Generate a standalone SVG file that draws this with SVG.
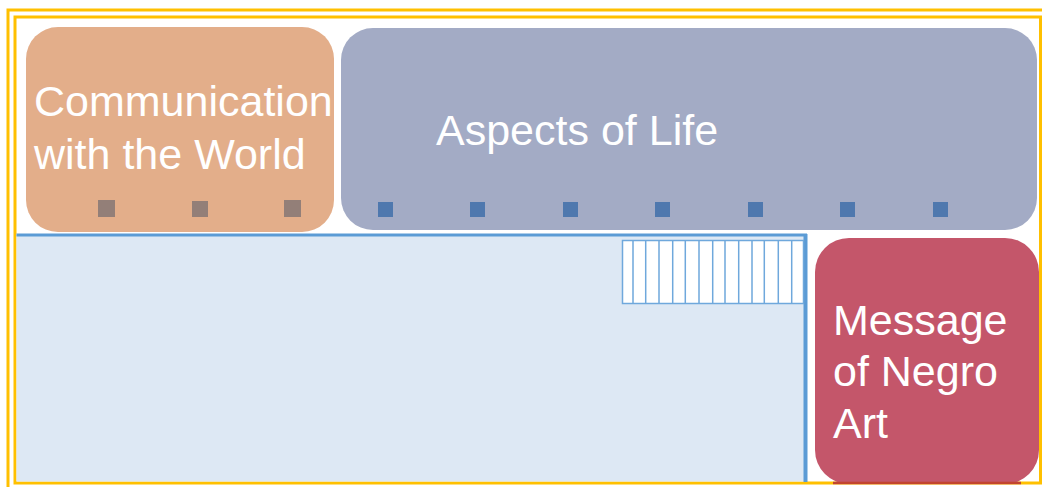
<svg xmlns="http://www.w3.org/2000/svg" width="1042" height="487" viewBox="0 0 1042 487">
<style>
.lbl{font-family:"Liberation Sans",Arial,sans-serif;font-size:43px;fill:#ffffff}
.frame{fill:none;stroke:#FFC000;stroke-width:3}
.sqo{fill:#937F78}
.sqb{fill:#4F78AE}
.hatch{stroke:#6FA8DC;stroke-width:1.5;fill:none}
</style>
<rect width="1042" height="487" fill="#ffffff"/>
<g id="frame">
<rect class="frame" x="8" y="10" width="1040" height="482"/>
<rect class="frame" x="15" y="17" width="1025.5" height="466"/>
</g>
<g id="panel">
<rect x="16.5" y="234" width="789" height="247.5" fill="#DDE8F4"/>
<line x1="16.5" y1="235" x2="807" y2="235" stroke="#5B9BD5" stroke-width="3"/>
<line x1="805.5" y1="234" x2="805.5" y2="482" stroke="#5B9BD5" stroke-width="4"/>
<rect x="622.5" y="240.5" width="181" height="63" fill="#ffffff" stroke="#6FA8DC" stroke-width="1.5"/>
<path class="hatch" d="M633 240.5V303.5M645.7 240.5V303.5M659 240.5V303.5M672.7 240.5V303.5M685.3 240.5V303.5M699 240.5V303.5M712.7 240.5V303.5M725 240.5V303.5M738.7 240.5V303.5M752 240.5V303.5M764.3 240.5V303.5M778.3 240.5V303.5M791.7 240.5V303.5"/>
</g>
<g id="node-communication">
<rect x="26" y="27" width="308" height="205" rx="32" fill="#E3AE8A"/>
<text class="lbl" x="34" y="116">Communication</text>
<text class="lbl" x="34" y="169">with the World</text>
<rect class="sqo" x="98" y="200" width="17" height="17"/>
<rect class="sqo" x="192" y="201" width="16" height="16"/>
<rect class="sqo" x="284" y="200" width="17" height="17"/>
</g>
<g id="node-aspects">
<rect x="341" y="28" width="696" height="202" rx="32" fill="#A3ABC5"/>
<text class="lbl" x="436" y="145">Aspects of Life</text>
<rect class="sqb" x="378" y="202" width="15" height="15"/>
<rect class="sqb" x="470" y="202" width="15" height="15"/>
<rect class="sqb" x="563" y="202" width="15" height="15"/>
<rect class="sqb" x="655" y="202" width="15" height="15"/>
<rect class="sqb" x="748" y="202" width="15" height="15"/>
<rect class="sqb" x="840" y="202" width="15" height="15"/>
<rect class="sqb" x="933" y="202" width="15" height="15"/>
</g>
<g id="node-message">
<rect x="815" y="238" width="224" height="246" rx="34" fill="#C4566A"/>
<line x1="833" y1="483" x2="1021" y2="483" stroke="#C2452E" stroke-width="2.5"/>
<text class="lbl" x="833" y="335">Message</text>
<text class="lbl" x="833" y="386">of Negro</text>
<text class="lbl" x="833" y="438">Art</text>
</g>
<g id="connectors"/>
</svg>
